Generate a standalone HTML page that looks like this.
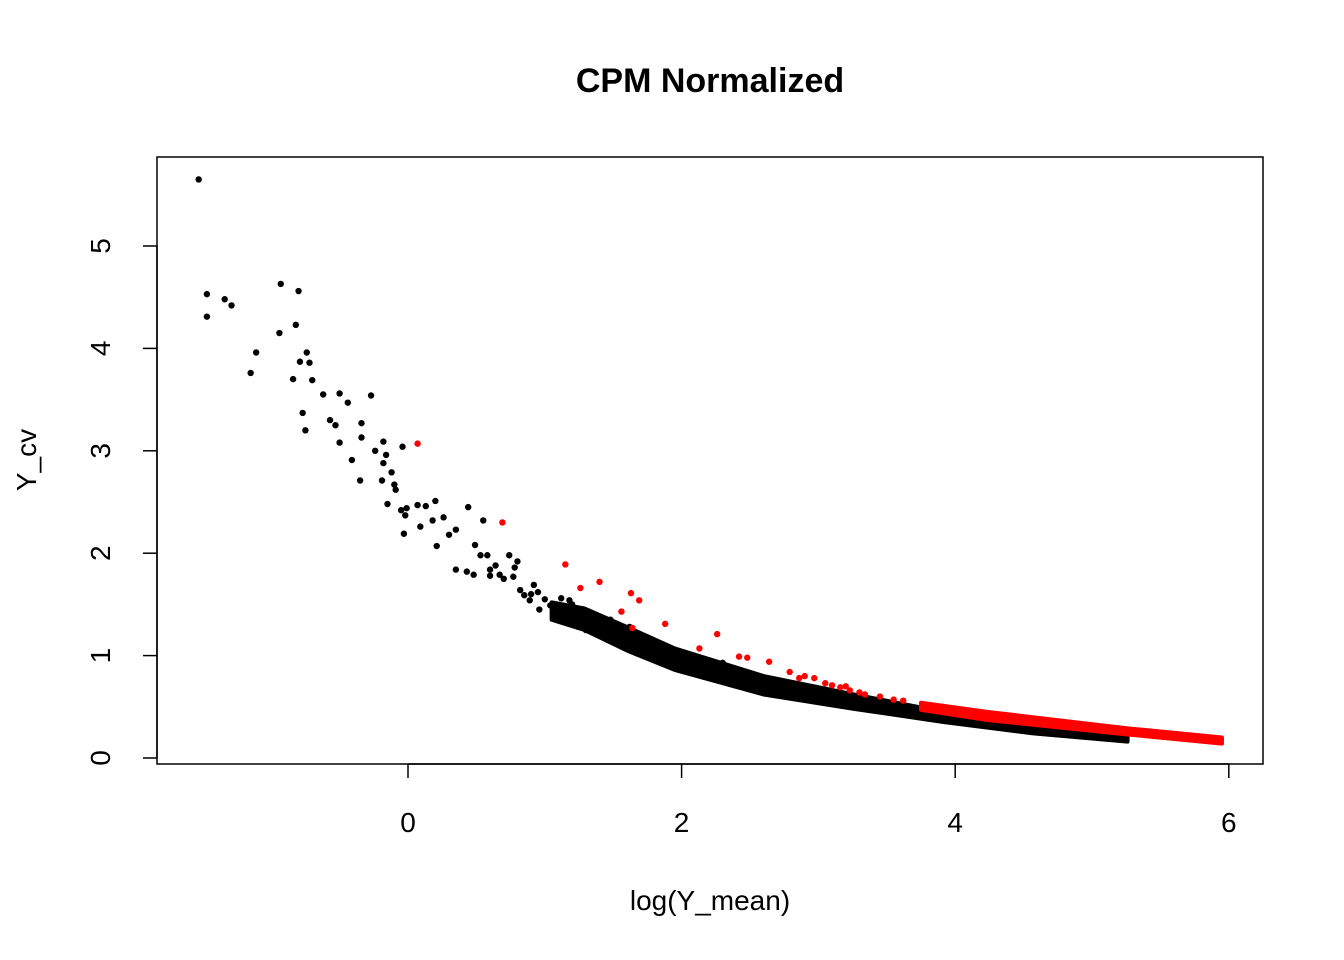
<!DOCTYPE html>
<html><head><meta charset="utf-8"><style>
body{margin:0;background:#fff;}
svg{display:block;font-family:"Liberation Sans",Arial,sans-serif;}
</style></head><body>
<svg id="chart" width="1344" height="960">
<text x="710" y="92" text-anchor="middle" font-size="34" font-weight="bold">CPM Normalized</text>
<rect x="157" y="157" width="1106" height="607" fill="none" stroke="#000" stroke-width="1.5"/>
<g id="marks"></g>
<g id="axes"></g>
<text x="710" y="910" text-anchor="middle" font-size="28">log(Y_mean)</text>
<text transform="translate(36,460) rotate(-90)" text-anchor="middle" font-size="28">Y_cv</text>
</svg>
<script>
const xTicks=[0,2,4,6];
const yTicks=[0,1,2,3,4,5];
const blackX=[-1.53,-1.47,-1.47,-1.34,-1.29,-1.11,-1.15,-0.93,-0.94,-0.80,-0.82,-0.79,-0.74,-0.72,-0.70,-0.84,-0.77,-0.75,-0.62,-0.50,-0.44,-0.57,-0.53,-0.50,-0.34,-0.34,-0.27,-0.41,-0.35,-0.24,-0.18,-0.16,-0.18,-0.12,-0.10,-0.04,-0.19,-0.09,-0.15,-0.05,-0.02,-0.03,-0.01,0.07,0.09,0.13,0.20,0.18,0.26,0.21,0.30,0.35,0.44,0.55,0.49,0.53,0.35,0.43,0.48,0.58,0.60,0.64,0.67,0.74,0.78,0.77,0.82,0.85,0.92,0.89,0.96,1.04,1.07,1.18,0.80,0.90,1.00,0.95,0.70,0.60,1.10,1.12,1.20,1.25,1.32,1.40,1.48,1.55,1.62,1.45,1.70,1.30,2.30];
const blackY=[5.65,4.53,4.31,4.48,4.42,3.96,3.76,4.63,4.15,4.56,4.23,3.87,3.96,3.86,3.69,3.70,3.37,3.20,3.55,3.56,3.47,3.30,3.25,3.08,3.27,3.13,3.54,2.91,2.71,3.00,3.09,2.96,2.88,2.79,2.67,3.04,2.71,2.62,2.48,2.42,2.37,2.19,2.44,2.47,2.26,2.46,2.51,2.32,2.35,2.07,2.18,2.23,2.45,2.32,2.08,1.98,1.84,1.82,1.79,1.98,1.84,1.88,1.79,1.98,1.86,1.77,1.64,1.59,1.69,1.54,1.45,1.49,1.43,1.54,1.92,1.60,1.55,1.62,1.75,1.78,1.48,1.56,1.50,1.36,1.42,1.30,1.35,1.22,1.28,1.18,1.12,1.25,0.93];
const bandX=[1.05,1.29,1.60,1.95,2.60,3.26,3.92,4.57,5.26];
const bandUpper=[1.52,1.46,1.28,1.07,0.80,0.62,0.45,0.31,0.22];
const bandLower=[1.35,1.25,1.05,0.86,0.62,0.48,0.35,0.24,0.16];
const redX=[0.07,0.69,1.15,1.26,1.40,1.63,1.69,1.56,1.64,1.88,2.13,2.26,2.42,2.48,2.64,2.79,2.86,2.97,3.05,3.16,3.23,3.34,3.20,3.30,3.45,3.55,3.62,2.90,3.10];
const redY=[3.07,2.30,1.89,1.66,1.72,1.61,1.54,1.43,1.27,1.31,1.07,1.21,0.99,0.98,0.94,0.84,0.78,0.78,0.73,0.69,0.66,0.62,0.70,0.64,0.60,0.57,0.56,0.80,0.71];
const redBandX=[3.75,4.24,5.26,5.95];
const redBandUpper=[0.54,0.45,0.29,0.20];
const redBandLower=[0.47,0.37,0.23,0.14];

const NS="http://www.w3.org/2000/svg";
const sx=v=>408+v*136.8;
const sy=v=>758-v*102.4;
const marks=document.getElementById('marks');
const axes=document.getElementById('axes');
function mk(tag,attrs,parent){const e=document.createElementNS(NS,tag);for(const k in attrs)e.setAttribute(k,attrs[k]);parent.appendChild(e);return e;}
function band(xs,up,lo,color,name){
  let pts=xs.map((x,i)=>sx(x)+','+sy(up[i]));
  for(let i=xs.length-1;i>=0;i--)pts.push(sx(xs[i])+','+sy(lo[i]));
  const p=mk('polygon',{points:pts.join(' '),fill:color,stroke:color,'stroke-width':4,'stroke-linejoin':'round'},marks);
  
  
}
band(bandX,bandUpper,bandLower,'#000','black-point-band');
band(redBandX,redBandUpper,redBandLower,'#f00','red-point-band');
blackX.forEach((x,i)=>{
  const c=mk('circle',{cx:sx(x),cy:sy(blackY[i]),r:3.2,fill:'#000'},marks);
  
  
});
redX.forEach((x,i)=>{
  const c=mk('circle',{cx:sx(x),cy:sy(redY[i]),r:3.2,fill:'#f00'},marks);
  
  
});
mk('line',{x1:sx(xTicks[0]),x2:sx(xTicks[xTicks.length-1]),y1:764,y2:764,stroke:'#000','stroke-width':1.5},axes);
xTicks.forEach(t=>{
  mk('line',{x1:sx(t),x2:sx(t),y1:764,y2:778,stroke:'#000','stroke-width':1.5},axes);
  const tx=mk('text',{x:sx(t),y:832,'text-anchor':'middle','font-size':28},axes);
  tx.textContent=t;
  
  
});
mk('line',{x1:157,x2:157,y1:sy(yTicks[0]),y2:sy(yTicks[yTicks.length-1]),stroke:'#000','stroke-width':1.5},axes);
yTicks.forEach(t=>{
  mk('line',{x1:143,x2:157,y1:sy(t),y2:sy(t),stroke:'#000','stroke-width':1.5},axes);
  const tx=mk('text',{transform:`translate(110,${sy(t)}) rotate(-90)`,'text-anchor':'middle','font-size':28},axes);
  tx.textContent=t;
  
  
});
</script>
</body></html>
